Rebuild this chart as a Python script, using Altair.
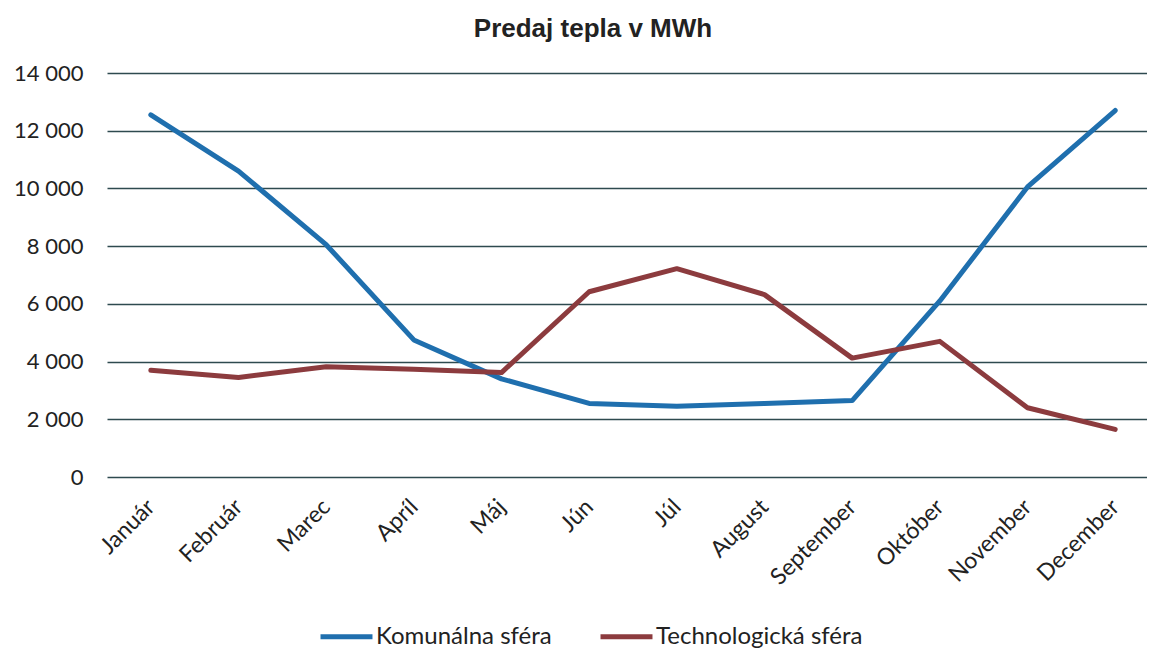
import altair as alt
import pandas as pd

months = ["Január", "Február", "Marec", "Apríl", "Máj", "Jún", "Júl",
          "August", "September", "Október", "November", "December"]
komunalna = [12550, 10600, 8050, 4750, 3400, 2550, 2450, 2550, 2650, 6100, 10050, 12700]
technologicka = [3700, 3450, 3820, 3730, 3620, 6420, 7220, 6320, 4120, 4700, 2400, 1650]
series_names = ["Komunálna sféra", "Technologická sféra"]
colors = ["#1f6fae", "#8c3b3e"]
y_ticks = [0, 2000, 4000, 6000, 8000, 10000, 12000, 14000]

rows = []
for m, a, b in zip(months, komunalna, technologicka):
    rows.append({"mesiac": m, "seria": series_names[0], "hodnota": a})
    rows.append({"mesiac": m, "seria": series_names[1], "hodnota": b})
df = pd.DataFrame(rows)

chart = alt.Chart(df).mark_line(strokeWidth=5, strokeCap="round", strokeJoin="round").encode(
    x=alt.X("mesiac:N", sort=months, title=None,
            scale=alt.Scale(padding=0.5),
            axis=alt.Axis(labelAngle=-45, labelAlign="right", labelBaseline="middle",
                          labelFont="Lato", labelFontSize=23, labelColor="#222222",
                          labelPadding=26, ticks=False, domain=False)),
    y=alt.Y("hodnota:Q", title=None,
            scale=alt.Scale(domain=[0, 14000], nice=False),
            axis=alt.Axis(values=y_ticks, labelExpr="replace(format(datum.value, ','), ',', ' ')",
                          labelFont="Lato", labelFontSize=22, labelColor="#222222",
                          labelPadding=24, ticks=False, domain=False,
                          grid=True, gridColor="#2e4a4f", gridWidth=1.5)),
    color=alt.Color("seria:N", sort=series_names, title=None,
                    scale=alt.Scale(domain=series_names, range=colors),
                    legend=alt.Legend(orient="none", legendX=211, legendY=535, direction="horizontal",
                                      symbolType="stroke", symbolSize=2700, symbolStrokeWidth=5,
                                      labelFont="Lato", labelFontSize=24, labelColor="#222222",
                                      labelLimit=400, labelOffset=1, columnPadding=38)),
).properties(
    width=1052, height=404,
    title=alt.TitleParams("Predaj tepla v MWh", font="Liberation Sans", fontSize=26,
                          fontWeight="bold", color="#222222", anchor="middle", dx=-40, offset=20),
    autosize=alt.AutoSizeParams(type="none"),
    padding={"left": 99, "top": 65, "right": -12, "bottom": 172},
).configure_view(stroke=None)

chart.save("out.html", embed_options={"renderer": "svg", "actions": False})
